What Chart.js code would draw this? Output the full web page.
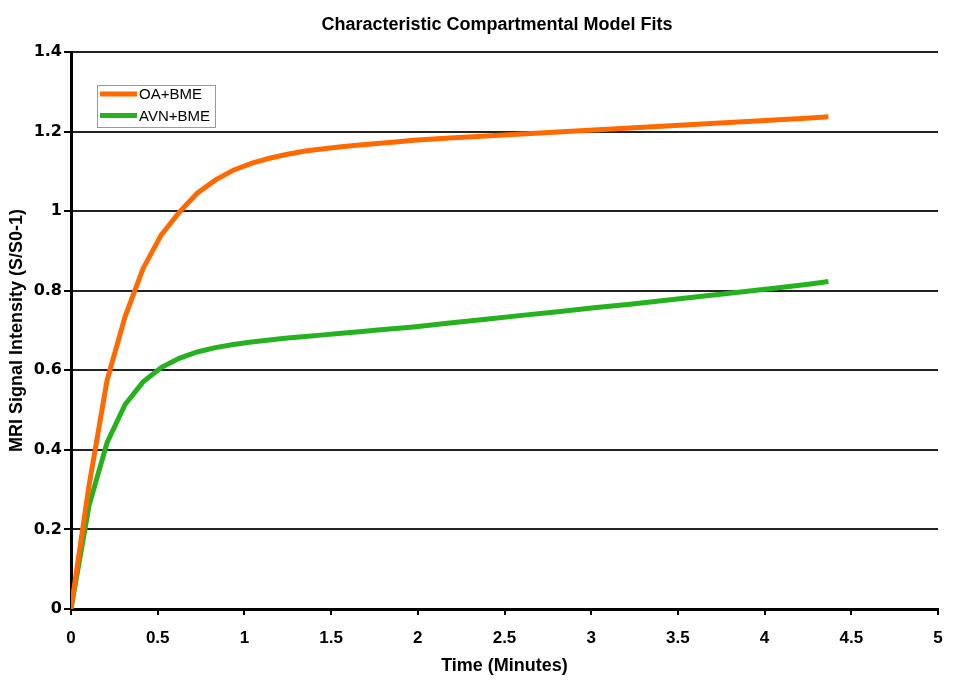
<!DOCTYPE html>
<html>
<head>
<meta charset="utf-8">
<script src="https://cdn.jsdelivr.net/npm/chart.js@4/dist/chart.umd.min.js"></script>
<style>
  html, body { margin: 0; padding: 0; background: #fff; }
  #wrap { width: 961px; height: 687px; }
</style>
</head>
<body>
<div id="wrap"><canvas id="c" width="961" height="687"></canvas></div>
<script>
const chartTitle = "Characteristic Compartmental Model Fits";
const xTitle = "Time (Minutes)";
const yTitle = "MRI Signal Intensity (S/S0-1)";
const seriesNames = ["OA+BME", "AVN+BME"];

const timeMinutes = [0, 0.104, 0.208, 0.312, 0.416, 0.52, 0.624, 0.728, 0.832, 0.936, 1.04, 1.144, 1.248, 1.352, 1.456, 1.56, 1.664, 1.768, 1.872, 1.976, 2.184, 2.392, 2.6, 2.808, 3.016, 3.224, 3.432, 3.64, 3.848, 4.056, 4.264, 4.368];
const oaBme = [0, 0.31, 0.575, 0.735, 0.856, 0.94, 0.997, 1.045, 1.078, 1.103, 1.12, 1.133, 1.143, 1.151, 1.157, 1.162, 1.166, 1.170, 1.174, 1.178, 1.184, 1.189, 1.194, 1.199, 1.204, 1.209, 1.214, 1.219, 1.224, 1.229, 1.234, 1.237];
const avnBme = [0, 0.26, 0.418, 0.514, 0.571, 0.607, 0.630, 0.646, 0.657, 0.665, 0.671, 0.676, 0.681, 0.685, 0.689, 0.693, 0.697, 0.701, 0.705, 0.709, 0.719, 0.728, 0.738, 0.747, 0.757, 0.766, 0.776, 0.786, 0.796, 0.806, 0.817, 0.823];

const xTickLabels = ["0", "0.5", "1", "1.5", "2", "2.5", "3", "3.5", "4", "4.5", "5"];
const yTickLabels = ["0", "0.2", "0.4", "0.6", "0.8", "1", "1.2", "1.4"];

const seriesColors = ["#FF6A00", "#26B21E"];

function toPoints(xs, ys) { return xs.map((x, i) => ({ x: x, y: ys[i] })); }

const overlay = {
  id: 'overlay',
  afterDraw(chart) {
    const ctx = chart.ctx;
    ctx.save();
    // title
    ctx.fillStyle = '#000';
    ctx.font = 'bold 18px "Liberation Sans", Arial, sans-serif';
    ctx.textAlign = 'center';
    ctx.textBaseline = 'middle';
    ctx.fillText(chartTitle, 497, 25);
    // legend box
    const bx = 97, by = 85, bw = 118, bh = 42;
    ctx.fillStyle = '#fff';
    ctx.fillRect(bx, by, bw, bh);
    ctx.strokeStyle = '#9a9a9a';
    ctx.lineWidth = 1;
    ctx.strokeRect(bx + 0.5, by + 0.5, bw, bh);
    ctx.font = '15px "Liberation Sans", Arial, sans-serif';
    ctx.textAlign = 'left';
    chart.data.datasets.forEach((ds, i) => {
      const y = 94 + i * 21.5;
      ctx.strokeStyle = ds.borderColor;
      ctx.lineWidth = 5;
      ctx.beginPath();
      ctx.moveTo(100, y);
      ctx.lineTo(137, y);
      ctx.stroke();
      ctx.fillStyle = '#000';
      ctx.fillText(ds.label, 139, y + 1);
    });
    ctx.restore();
  }
};

new Chart(document.getElementById('c'), {
  type: 'line',
  data: {
    datasets: [
      { label: seriesNames[0], data: toPoints(timeMinutes, oaBme), borderColor: seriesColors[0], backgroundColor: seriesColors[0], borderWidth: 5, pointRadius: 0, tension: 0, fill: false },
      { label: seriesNames[1], data: toPoints(timeMinutes, avnBme), borderColor: seriesColors[1], backgroundColor: seriesColors[1], borderWidth: 5, pointRadius: 0, tension: 0, fill: false }
    ]
  },
  options: {
    responsive: false,
    animation: false,
    devicePixelRatio: 1,
    layout: { padding: { top: 52, right: 23, bottom: 0, left: 0 } },
    plugins: {
      legend: { display: false },
      title: { display: false },
      tooltip: { enabled: false }
    },
    scales: {
      x: {
        type: 'linear',
        min: 0, max: 5,
        afterFit(s) { s.height = 78; },
        ticks: {
          stepSize: 0.5,
          color: '#000',
          padding: 13,
          maxRotation: 0,
          autoSkip: false,
          font: { family: '"Liberation Sans", Arial, sans-serif', weight: 'bold', size: 17 },
          callback: (v) => { const i = Math.round(v / 0.5); return xTickLabels[i]; }
        },
        grid: { drawOnChartArea: false, drawTicks: true, tickLength: 6, color: '#000', lineWidth: 2 },
        border: { display: true, color: '#000', width: 3 },
        title: {
          display: true, text: xTitle, color: '#000',
          font: { family: '"Liberation Sans", Arial, sans-serif', weight: 'bold', size: 18 },
          padding: { top: 0, bottom: 10 }
        }
      },
      y: {
        type: 'linear',
        min: 0, max: 1.4,
        afterFit(s) { s.width = 71; },
        ticks: {
          stepSize: 0.2,
          color: '#000',
          padding: 2,
          font: { family: '"DejaVu Sans", sans-serif', weight: 'bold', size: 16 },
          callback: (v) => { const i = Math.round(v / 0.2); return yTickLabels[i]; }
        },
        grid: { color: '#222', lineWidth: 2, tickLength: 7, tickColor: '#000' },
        border: { display: true, color: '#000', width: 3 },
        title: {
          display: true, text: yTitle, color: '#000',
          font: { family: '"Liberation Sans", Arial, sans-serif', weight: 'bold', size: 18 },
          padding: { top: 6, bottom: 0 }
        }
      }
    }
  },
  plugins: [overlay]
});
</script>
</body>
</html>
